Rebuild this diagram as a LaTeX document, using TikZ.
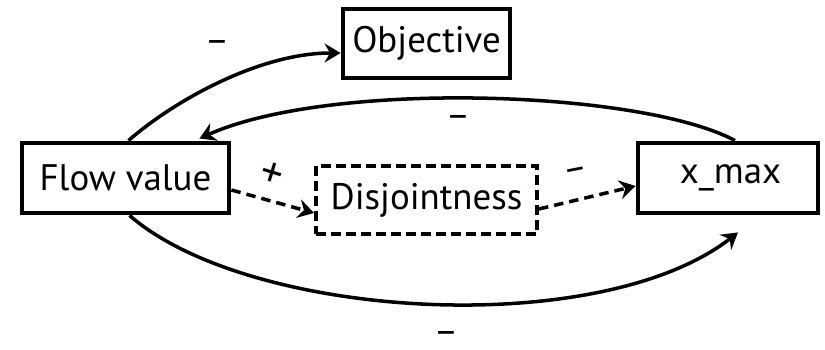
\documentclass[tikz,border=0pt]{standalone}
\usepackage{fontspec}
\setmainfont{PT Sans}
\usetikzlibrary{arrows.meta,calc}
\begin{document}
\begin{tikzpicture}[x=0.02cm,y=-0.02cm,
  font=\fontsize{21}{25}\selectfont,
  box/.style={draw,line width=2.8pt,inner sep=0pt,minimum height=1.4cm},
  dbox/.style={draw,line width=2.3pt,dash pattern=on 0.2cm off 0.1cm,inner sep=0pt,minimum height=1.36cm},
  conn/.style={line width=2pt,-{Stealth[length=0.32cm,width=0.38cm,inset=0.11cm]}},
  dconn/.style={conn,dash pattern=on 0.19cm off 0.12cm},
  sign/.style={inner sep=0pt}]
\useasboundingbox (0,0) rectangle (825,350);
\node[box,minimum width=3.34cm,minimum height=1.38cm] (obj) at (426.5,43.5) {Objective};
\node[box,minimum width=4.14cm] (flow) at (125.5,178) {Flow value};
\node[dbox,minimum width=4.42cm] (dis) at (426.5,200) {Disjointness};
\node[box,minimum width=3.6cm] (xmax) at (728,178) {\hspace{0.1cm}x\_max};
\coordinate (a1) at ($(flow.north)+(3,0)$);
\coordinate (a2) at ($(obj.west)+(0,9.5)$);
\coordinate (b1) at ($(xmax.north)+(7,0)$);
\coordinate (b2) at ($(flow.north east)+(-32,-2)$);
\coordinate (c1) at ($(flow.south)+(4,0)$);
\coordinate (c2) at ($(xmax.south)+(10,17)$);
\coordinate (d1) at ($(flow.east)+(0,12)$);
\coordinate (d2) at ($(dis.west)+(0,13)$);
\coordinate (e1) at ($(dis.east)+(0,9)$);
\coordinate (e2) at ($(xmax.west)+(0,8)$);
\draw[conn] (a1) .. controls (175,100) and (260,53) .. (a2);
\draw[conn] (b1) .. controls (640,90) and (330,80) .. (b2);
\draw[conn] (c1) .. controls (250,320) and (600,340) .. (c2);
\draw[dconn] (d1) -- (d2);
\draw[dconn] (e1) -- (e2);
\node[sign] (s1) at (217,47) {–};
\node[sign] (s2) at (458,122) {–};
\node[sign,rotate=-17,font=\fontsize{25}{28}\selectfont] (s3) at (272,175) {+};
\node[sign,rotate=11] (s4) at (576,174) {–};
\node[sign] (s5) at (446,338) {–};
\end{tikzpicture}
\end{document}
